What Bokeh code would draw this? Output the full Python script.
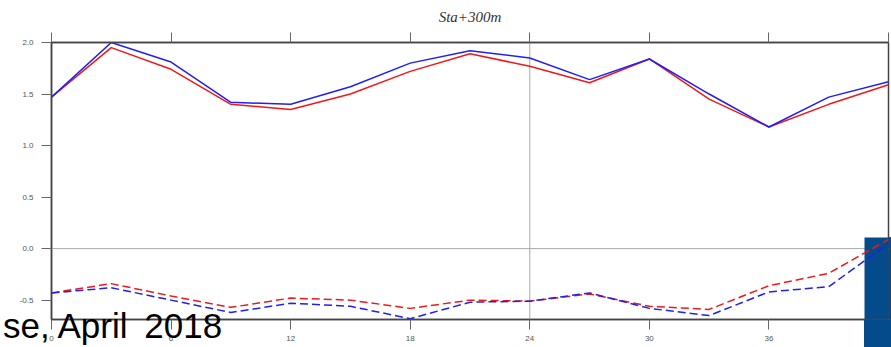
from bokeh.plotting import figure
from bokeh.models import (LinearAxis, Range1d, Span, BoxAnnotation, Div, FixedTicker,
                          PrintfTickFormatter, CustomLabelingPolicy)
from bokeh.embed import file_html
from bokeh.resources import INLINE

hours = [0, 3, 6, 9, 12, 15, 18, 21, 24, 27, 30, 33, 36, 39, 42]
blue_solid = [1.47, 2.00, 1.81, 1.42, 1.40, 1.57, 1.80, 1.92, 1.85, 1.64, 1.84, 1.50, 1.18, 1.47, 1.62]
red_solid = [1.47, 1.95, 1.74, 1.40, 1.35, 1.50, 1.72, 1.89, 1.77, 1.61, 1.84, 1.45, 1.18, 1.40, 1.59]
red_dash = [-0.43, -0.34, -0.46, -0.57, -0.48, -0.50, -0.58, -0.50, -0.51, -0.44, -0.56, -0.59, -0.36, -0.24, 0.09]
blue_dash = [-0.43, -0.38, -0.50, -0.62, -0.53, -0.56, -0.68, -0.52, -0.51, -0.43, -0.58, -0.65, -0.42, -0.37, 0.05]
x_ticks = [0, 6, 12, 18, 24, 30, 36, 42]
y_ticks = [-0.5, 0.0, 0.5, 1.0, 1.5, 2.0]
title_text = "Sta+300m"
caption_words = ["se,", "April", "2018"]

RED = "#f01818"
BLUE = "#2020f0"
PANEL = "#044b8b"

p = figure(width=891, height=347, output_backend="svg", toolbar_location=None,
           x_range=Range1d(0, 42), y_range=Range1d(-0.688, 2.0),
           min_border_left=51, min_border_right=3, min_border_top=42, min_border_bottom=28,
           x_axis_location=None, y_axis_location=None)
p.title.text = title_text
p.title.align = "center"
p.title.text_font = "Liberation Serif"
p.title.text_font_style = "italic"
p.title.text_font_size = "15px"
p.title.text_color = "#333333"
p.title.standoff = 0
p.title.padding = 4
p.grid.visible = False
p.outline_line_color = "#444444"
p.outline_line_width = 1.5
p.background_fill_color = "white"
p.border_fill_color = "white"

def style_axis(ax, ticks):
    ax.ticker = FixedTicker(ticks=ticks)
    ax.axis_line_color = "#444444"
    ax.axis_line_width = 1.5
    ax.major_tick_line_color = "#666666"
    ax.major_tick_line_width = 1
    ax.major_tick_in = 0
    ax.major_tick_out = 10
    ax.minor_tick_line_color = None
    ax.major_label_text_font = "Liberation Sans"
    ax.major_label_text_font_size = "8px"
    ax.major_label_text_color = "#555555"

bx = LinearAxis()
tx = LinearAxis()
ly = LinearAxis()
style_axis(bx, x_ticks)
style_axis(tx, x_ticks)
style_axis(ly, y_ticks)
ly.formatter = PrintfTickFormatter(format="%.1f")
bx.major_label_standoff = 6
ly.major_label_standoff = 8
tx.major_label_standoff = 0
tx.major_label_text_font_size = "1px"
tx.major_label_policy = CustomLabelingPolicy(code="for (const i of Array.from(indices)) indices.unset(i); return indices")
p.add_layout(bx, "below")
p.add_layout(tx, "above")
p.add_layout(ly, "left")

p.add_layout(Span(location=0, dimension="width", line_color="#aaaaaa", line_width=1, level="underlay"))
p.add_layout(Span(location=24, dimension="height", line_color="#aaaaaa", line_width=1, level="underlay"))

# blue panel: in-frame part behind the lines
box_in = BoxAnnotation(left=864, right=891, top=237, bottom=347,
                       left_units="canvas", right_units="canvas", top_units="canvas", bottom_units="canvas",
                       fill_color=PANEL, fill_alpha=1.0, line_color=None, level="underlay")
p.add_layout(box_in)

p.line(hours, red_solid, line_color=RED, line_width=1.5)
p.line(hours, blue_solid, line_color=BLUE, line_width=1.5)
p.line(hours, red_dash, line_color=RED, line_width=1.5, line_dash="8 4")
p.line(hours, blue_dash, line_color=BLUE, line_width=1.5, line_dash="8 4")

# parts that lie outside the frame, drawn as page elements over the canvas
panel_below = Div(text="", width=27, height=27,
                  styles={"position": "absolute", "left": "864px", "top": "320px",
                          "width": "27px", "height": "27px", "background-color": PANEL, "z-index": "5"})
panel_right = Div(text="", width=2, height=110,
                  styles={"position": "absolute", "left": "889px", "top": "237px",
                          "width": "2px", "height": "110px", "background-color": PANEL, "z-index": "5"})
caption_html = (caption_words[0] + ' ' + caption_words[1]
                + ' <span style="margin-left:7px">' + caption_words[2] + '</span>')
caption = Div(text=caption_html, width=280, height=35,
              styles={"position": "absolute", "left": "3px", "top": "308px", "width": "280px",
                      "font-family": "Liberation Sans", "font-size": "35px", "line-height": "35px",
                      "color": "black", "white-space": "nowrap", "z-index": "6"})
p.elements = [panel_below, panel_right, caption]

open("out.html", "w").write(file_html(p, INLINE))
